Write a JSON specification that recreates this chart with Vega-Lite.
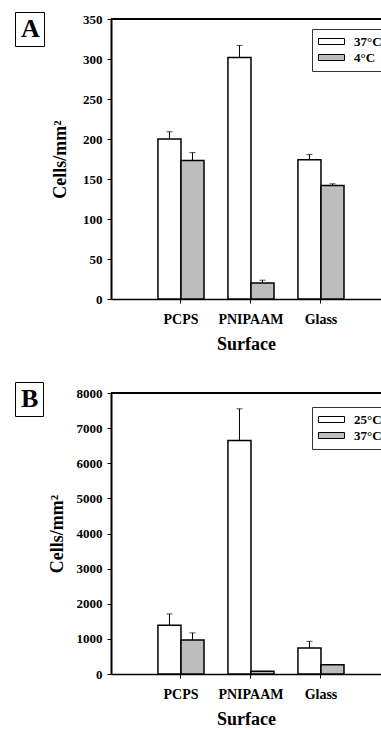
{
  "$schema": "https://vega.github.io/schema/vega-lite/v6.json",
  "padding": {"left": 14, "top": 11, "right": 0, "bottom": 0},
  "spacing": 28,
  "config": {
    "view": {"stroke": null},
    "font": "Liberation Serif",
    "axis": {
      "labelFont": "Liberation Serif", "labelFontWeight": "bold", "labelColor": "black",
      "titleFont": "Liberation Serif", "titleFontWeight": "bold", "titleColor": "black",
      "domainColor": "black", "tickColor": "black", "grid": false, "tickSize": 4, "labelOverlap": false
    },
    "legend": {
      "labelFont": "Liberation Serif", "labelFontWeight": "bold", "labelColor": "black"
    }
  },
  "resolve": {"scale": {"y": "independent", "fill": "independent", "shape": "independent", "x": "independent", "xOffset": "independent"}},
  "vconcat": [
    {
      "width": 270, "height": 280,
      "data": {"values": [
        {"surface": "PCPS", "temp": "37°C", "cells": 200, "err": 9},
        {"surface": "PCPS", "temp": "4°C", "cells": 173, "err": 10},
        {"surface": "PNIPAAM", "temp": "37°C", "cells": 302, "err": 15},
        {"surface": "PNIPAAM", "temp": "4°C", "cells": 20, "err": 3.5},
        {"surface": "Glass", "temp": "37°C", "cells": 174, "err": 6.5},
        {"surface": "Glass", "temp": "4°C", "cells": 142, "err": 2}
      ]},
      "layer": [
        {
          "mark": {"type": "bar", "stroke": "black", "strokeWidth": 1.5},
          "encoding": {
            "x": {"field": "surface", "type": "nominal", "sort": ["PCPS", "PNIPAAM", "Glass"],
              "scale": {"paddingInner": 0, "paddingOuter": 0.4286, "align": 0.583},
              "axis": {"title": "Surface", "labelAngle": 0, "labelFontSize": 14, "labelPadding": 9, "titleFontSize": 18, "titlePadding": 9, "domainWidth": 1.5}},
            "xOffset": {"field": "temp", "type": "nominal", "sort": ["37°C", "4°C"], "scale": {"paddingInner": 0, "paddingOuter": 0.52}},
            "y": {"field": "cells", "type": "quantitative",
              "scale": {"domain": [0, 350], "nice": false},
              "axis": {"title": "Cells/mm²", "values": [0, 50, 100, 150, 200, 250, 300, 350], "labelFontSize": 13, "labelPadding": 5, "titleFontSize": 18, "titlePadding": 13, "domainWidth": 2}},
            "fill": {"field": "temp", "type": "nominal", "sort": ["37°C", "4°C"],
              "scale": {"range": ["white", "#bdbdbd"]},
              "legend": {"title": null, "orient": "none", "legendX": 201, "legendY": 10,
                "symbolType": "M-2.17,-0.5H2.17V0.5H-2.17Z", "symbolSize": 144, "symbolStrokeColor": "black", "symbolStrokeWidth": 1,
                "symbolOffset": 7, "labelFontSize": 13, "labelOffset": 16, "padding": 6, "rowPadding": 2,
                "strokeColor": "#333", "fillColor": "white"}}
          }
        },
        {
          "transform": [{"calculate": "datum.cells + datum.err", "as": "hi"}],
          "mark": {"type": "rule", "color": "black", "strokeWidth": 1},
          "encoding": {
            "x": {"field": "surface", "type": "nominal", "sort": ["PCPS", "PNIPAAM", "Glass"]},
            "xOffset": {"field": "temp", "type": "nominal", "sort": ["37°C", "4°C"]},
            "y": {"field": "cells", "type": "quantitative", "axis": {"title": "Cells/mm²", "values": [0, 50, 100, 150, 200, 250, 300, 350]}},
            "y2": {"field": "hi"}
          }
        },
        {
          "transform": [{"calculate": "datum.cells + datum.err", "as": "hi"}],
          "mark": {"type": "tick", "color": "black", "size": 6, "thickness": 1},
          "encoding": {
            "x": {"field": "surface", "type": "nominal", "sort": ["PCPS", "PNIPAAM", "Glass"]},
            "xOffset": {"field": "temp", "type": "nominal", "sort": ["37°C", "4°C"]},
            "y": {"field": "hi", "type": "quantitative", "axis": {"title": "Cells/mm²", "values": [0, 50, 100, 150, 200, 250, 300, 350]}}
          }
        },
        {
          "mark": {"type": "rule", "color": "black", "strokeWidth": 1.5},
          "encoding": {"y": {"datum": 350, "type": "quantitative", "axis": {"title": "Cells/mm²", "values": [0, 50, 100, 150, 200, 250, 300, 350]}}}
        },
        {
          "data": {"values": [{"panel": "A"}]},
          "mark": {"type": "point", "opacity": 0},
          "encoding": {
            "shape": {"field": "panel", "type": "nominal",
              "legend": {"title": null, "orient": "none", "legendX": -96, "legendY": -7,
                "symbolSize": 0, "symbolOpacity": 0, "labelOffset": -24,
                "labelFontSize": 26, "padding": 4,
                "strokeColor": "black",
                "encode": {"legend": {"update": {"strokeWidth": {"value": 2}}}}}}
          }
        }
      ]
    },
    {
      "width": 270, "height": 281,
      "data": {"values": [
        {"surface": "PCPS", "temp": "25°C", "cells": 1385, "err": 325},
        {"surface": "PCPS", "temp": "37°C", "cells": 970, "err": 200},
        {"surface": "PNIPAAM", "temp": "25°C", "cells": 6650, "err": 900},
        {"surface": "PNIPAAM", "temp": "37°C", "cells": 75, "err": 0},
        {"surface": "Glass", "temp": "25°C", "cells": 740, "err": 190},
        {"surface": "Glass", "temp": "37°C", "cells": 265, "err": 0}
      ]},
      "layer": [
        {
          "mark": {"type": "bar", "stroke": "black", "strokeWidth": 1.5},
          "encoding": {
            "x": {"field": "surface", "type": "nominal", "sort": ["PCPS", "PNIPAAM", "Glass"],
              "scale": {"paddingInner": 0, "paddingOuter": 0.4286, "align": 0.583},
              "axis": {"title": "Surface", "labelAngle": 0, "labelFontSize": 14, "labelPadding": 9, "titleFontSize": 18, "titlePadding": 9, "domainWidth": 1.5}},
            "xOffset": {"field": "temp", "type": "nominal", "sort": ["25°C", "37°C"], "scale": {"paddingInner": 0, "paddingOuter": 0.52}},
            "y": {"field": "cells", "type": "quantitative",
              "scale": {"domain": [0, 8000], "nice": false},
              "axis": {"title": "Cells/mm²", "values": [0, 1000, 2000, 3000, 4000, 5000, 6000, 7000, 8000], "format": "d", "labelFontSize": 13, "labelPadding": 5, "titleFontSize": 18, "titlePadding": 10, "domainWidth": 2}},
            "fill": {"field": "temp", "type": "nominal", "sort": ["25°C", "37°C"],
              "scale": {"range": ["white", "#bdbdbd"]},
              "legend": {"title": null, "orient": "none", "legendX": 201, "legendY": 14,
                "symbolType": "M-2.17,-0.5H2.17V0.5H-2.17Z", "symbolSize": 144, "symbolStrokeColor": "black", "symbolStrokeWidth": 1,
                "symbolOffset": 7, "labelFontSize": 13, "labelOffset": 16, "padding": 6, "rowPadding": 2,
                "strokeColor": "#333", "fillColor": "white"}}
          }
        },
        {
          "transform": [{"filter": "datum.err > 0"}, {"calculate": "datum.cells + datum.err", "as": "hi"}],
          "mark": {"type": "rule", "color": "black", "strokeWidth": 1},
          "encoding": {
            "x": {"field": "surface", "type": "nominal", "sort": ["PCPS", "PNIPAAM", "Glass"]},
            "xOffset": {"field": "temp", "type": "nominal", "sort": ["25°C", "37°C"]},
            "y": {"field": "cells", "type": "quantitative", "axis": {"title": "Cells/mm²", "values": [0, 1000, 2000, 3000, 4000, 5000, 6000, 7000, 8000], "format": "d"}},
            "y2": {"field": "hi"}
          }
        },
        {
          "transform": [{"filter": "datum.err > 0"}, {"calculate": "datum.cells + datum.err", "as": "hi"}],
          "mark": {"type": "tick", "color": "black", "size": 6, "thickness": 1},
          "encoding": {
            "x": {"field": "surface", "type": "nominal", "sort": ["PCPS", "PNIPAAM", "Glass"]},
            "xOffset": {"field": "temp", "type": "nominal", "sort": ["25°C", "37°C"]},
            "y": {"field": "hi", "type": "quantitative", "axis": {"title": "Cells/mm²", "values": [0, 1000, 2000, 3000, 4000, 5000, 6000, 7000, 8000], "format": "d"}}
          }
        },
        {
          "mark": {"type": "rule", "color": "black", "strokeWidth": 1.5},
          "encoding": {"y": {"datum": 8000, "type": "quantitative", "axis": {"title": "Cells/mm²", "values": [0, 1000, 2000, 3000, 4000, 5000, 6000, 7000, 8000], "format": "d"}}}
        },
        {
          "data": {"values": [{"panel": "B"}]},
          "mark": {"type": "point", "opacity": 0},
          "encoding": {
            "shape": {"field": "panel", "type": "nominal",
              "legend": {"title": null, "orient": "none", "legendX": -96, "legendY": -11,
                "symbolSize": 0, "symbolOpacity": 0, "labelOffset": -24,
                "labelFontSize": 26, "padding": 4,
                "strokeColor": "black",
                "encode": {"legend": {"update": {"strokeWidth": {"value": 2}}}}}}
          }
        }
      ]
    }
  ]
}
